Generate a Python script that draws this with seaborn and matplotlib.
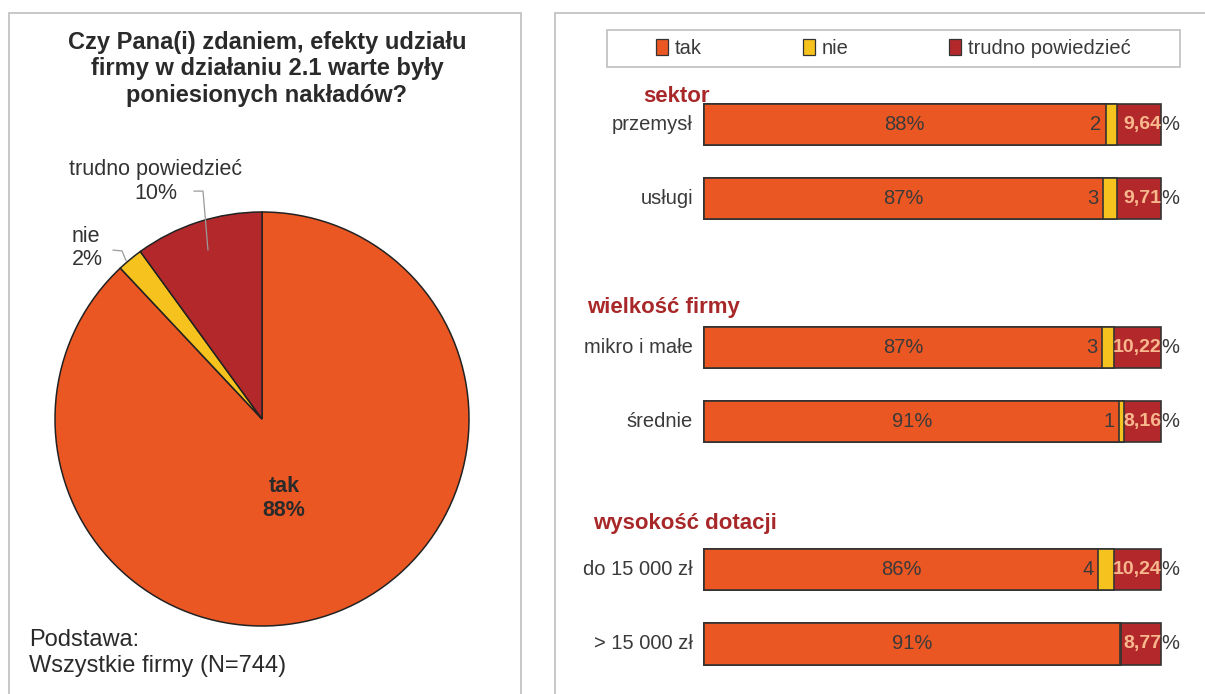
import pandas as pd
import matplotlib.pyplot as plt
import seaborn as sns
from matplotlib.patches import Rectangle, Patch

sns.set_style("white")
plt.rcParams["font.family"] = ["Liberation Sans", "DejaVu Sans"]

W, H = 1205, 694

# ---------------------------------------------------
# data
# ---------------------------------------------------
pie_labels = ["tak", "nie", "trudno powiedzieć"]
pie_values = [88, 2, 10]

categories = ["przemysł", "usługi", "mikro i małe", "średnie", "do 15 000 zł", "> 15 000 zł"]
groups = ["sektor", "wielkość firmy", "wysokość dotacji"]
tak = [87.90, 87.29, 87.08, 90.90, 86.26, 91.00]
nie = [2.46, 3.00, 2.70, 0.94, 3.50, 0.23]
trudno = [9.64, 9.71, 10.22, 8.16, 10.24, 8.77]

ORANGE = "#EB5723"
YELLOW = "#F6C21D"
DARKRED = "#B3292B"
HEAD = "#A8282A"
PEACH = "#F8B88E"
TXT = "#3a3a3a"

fig = plt.figure(figsize=(W / 100, H / 100), dpi=100)

# panel frames
for x0, y0, x1 in [(8.5, 12.5, 521), (555, 12.5, 1215)]:
    fig.patches.append(Rectangle((x0 / W, -0.05), (x1 - x0) / W, 1.05 - y0 / H,
                                 transform=fig.transFigure, fill=False,
                                 edgecolor="#c4c4c4", linewidth=1.3))

# ---------------------------------------------------
# left: pie
# ---------------------------------------------------
ax1 = fig.add_axes([3.25 / W, 1 - 677.75 / H, 517.5 / W, 517.5 / H])
ax1.pie(pie_values, colors=[ORANGE, YELLOW, DARKRED], startangle=90, counterclock=False,
        wedgeprops=dict(edgecolor="#222222", linewidth=1.1))
ax1.set_aspect("auto")
ax1.set_xlim(-1.25, 1.25)
ax1.set_ylim(-1.25, 1.25)
ax1.axis("off")

ax1.text(0.106, -0.382, f"{pie_labels[0]}\n{pie_values[0]}%", ha="center", va="center",
         fontsize=15.5, fontweight="bold", color="#2a2a2a", linespacing=1.18)
ax1.text(-0.918, 0.826, f"{pie_labels[1]}\n{pie_values[1]}%", ha="left", va="center",
         fontsize=15.5, color="#333333", linespacing=1.18)
ax1.text(-0.514, 1.147, f"{pie_labels[2]}\n{pie_values[2]}%", ha="center", va="center",
         fontsize=15.5, color="#333333", linespacing=1.2)
ax1.plot([-0.329, -0.285, -0.261], [1.101, 1.101, 0.816], color="#9a9a9a", lw=0.9, clip_on=False)
ax1.plot([-0.720, -0.676, -0.657], [0.816, 0.812, 0.765], color="#9a9a9a", lw=0.9, clip_on=False)

fig.text(267 / W, 1 - 69 / H,
         "Czy Pana(i) zdaniem, efekty udziału\nfirmy w działaniu 2.1 warte były\nponiesionych nakładów?",
         ha="center", va="center", fontsize=17, fontweight="bold", color="#2a2a2a",
         linespacing=1.2)
fig.text(29 / W, 1 - 653 / H, "Podstawa:\nWszystkie firmy (N=744)", ha="left", va="center",
         fontsize=17, color="#2a2a2a", linespacing=1.28)

# ---------------------------------------------------
# right: stacked bars
# ---------------------------------------------------
positions = [0, 1, 3, 4, 6, 7]
df = pd.DataFrame({"pos": positions, "tak": tak, "nie": nie, "trudno": trudno})
df["c2"] = df["tak"] + df["nie"]
df["c3"] = df["c2"] + df["trudno"]

ax2 = fig.add_axes([704 / W, 1 - 681.1 / H, 457 / W, 593.7 / H])
for col, color in [("c3", DARKRED), ("c2", YELLOW), ("tak", ORANGE)]:
    sns.barplot(data=df, x=col, y="pos", orient="h", native_scale=True, color=color,
                saturation=1, width=0.553, edgecolor="#333333", linewidth=1.2,
                errorbar=None, ax=ax2)
for p in ax2.patches:
    p.set_clip_on(False)
ax2.set_xlim(0, 100)
ax2.set_ylim(7.5, -0.5)
ax2.axis("off")

for i, row in df.iterrows():
    y = row["pos"]
    ax2.text(row["tak"] / 2, y, f"{round(row['tak'])}%", ha="center", va="center",
             fontsize=14.5, color=TXT)
    n = round(row["nie"])
    if n > 0:
        ax2.text(row["tak"] - 1.0, y, str(n), ha="right", va="center", fontsize=14.5, color=TXT)
    ax2.text(100.1, y, f"{row['trudno']:.2f}".replace(".", ","), ha="right", va="center",
             fontsize=14, fontweight="bold", color=PEACH)
    ax2.text(100.1, y, "%", ha="left", va="center", fontsize=14.5, color=TXT)
    ax2.text(-2.4, y, categories[i], ha="right", va="center", fontsize=14.5, color=TXT)

for name, (hx, hy) in zip(groups, [(-13.3, -0.38), (-25.6, 2.47), (-24.3, 5.37)]):
    ax2.text(hx, hy, name, ha="left", va="center", fontsize=16, fontweight="bold", color=HEAD)

# legend
fig.patches.append(Rectangle((607 / W, 1 - 67 / H), 573 / W, 37 / H, transform=fig.transFigure,
                             fill=False, edgecolor="#c4c4c4", linewidth=1.3))
handles = [Patch(facecolor=c, edgecolor="#333333", linewidth=0.9) for c in [ORANGE, YELLOW, DARKRED]]
fig.legend(handles, pie_labels, ncol=3, frameon=False, loc="center",
           bbox_to_anchor=(893.5 / W, 1 - 48.5 / H), fontsize=14.5, handlelength=0.6,
           handleheight=0.8, handletextpad=0.35, columnspacing=5.0, labelcolor=TXT)

fig.savefig("out.png", dpi=100)
